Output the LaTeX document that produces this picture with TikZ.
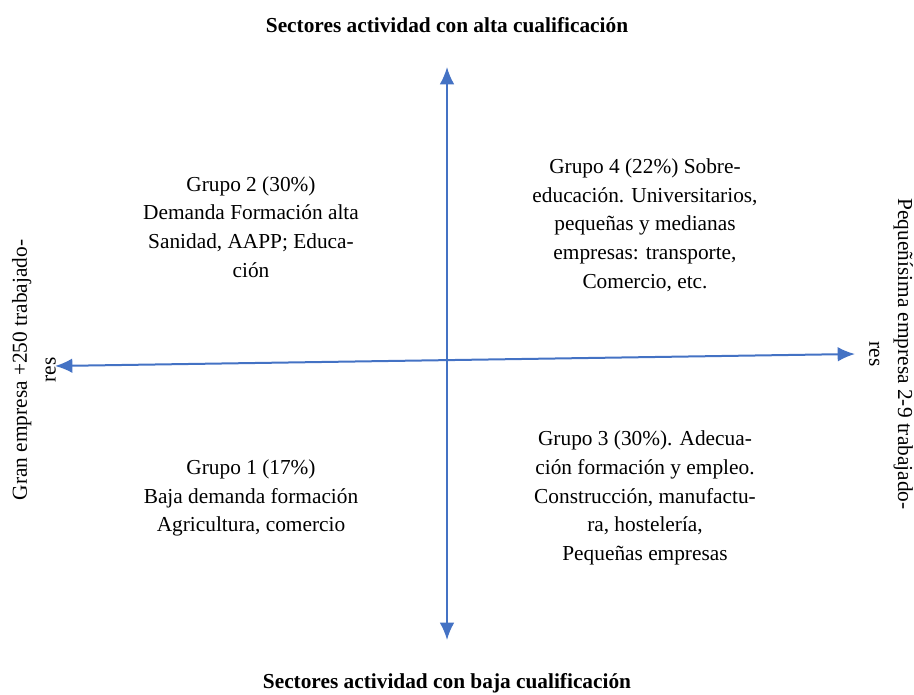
\documentclass[tikz,border=0pt]{standalone}
\usepackage{fontspec}
\setmainfont{Liberation Serif}
\usepackage{xcolor}
\definecolor{axisblue}{RGB}{68,114,196}
\usetikzlibrary{arrows.meta, positioning}

\tikzset{
  axisline/.style={draw=axisblue, line width=1.5pt, {Latex[length=13pt,width=11pt]}-{Latex[length=13pt,width=11pt]}},
  quadtext/.style={font=\fontsize{16}{21.5}\selectfont, align=center, inner sep=0pt},
  titletext/.style={font=\fontsize{16}{21.5}\selectfont\bfseries, align=center, inner sep=0pt},
  sidetext/.style={font=\fontsize{16}{21.5}\selectfont, align=center, inner sep=0pt}
}

\begin{document}
\begin{tikzpicture}[x=0.75pt, y=-0.75pt]
      \useasboundingbox (0,0) rectangle (914,695);

      % Axis end points
      \coordinate (top) at (447,67);
      \coordinate (bottom) at (447,640);
      \coordinate (left) at (55,366);
      \coordinate (right) at (855,354);

      % Axes
      \draw[axisline] (bottom) -- (top);
      \draw[axisline] (left) -- (right);

      % Titles
      \node[titletext] (alta) at (447,25) {Sectores actividad con alta cualificación};
      \node[titletext] (baja) at (447,683) {Sectores actividad con baja cualificación};
      \node[sidetext, rotate=90] (gran) at (34,370) {Gran empresa +250 trabajado-\\res};
      \node[sidetext, rotate=-90] (pequena) at (891,354) {Pequeñísima empresa 2-9 trabajado-\\res};

      % Quadrants
      \node[quadtext] (grupo2) at (251,227) {Grupo 2 (30\%)\\Demanda Formación alta\\Sanidad, AAPP; Educa-\\ción};
      \node[quadtext] (grupo4) at (645,225) {Grupo 4 (22\%) Sobre-\\educación. Universitarios,\\pequeñas y medianas\\empresas: transporte,\\Comercio, etc.};
      \node[quadtext] (grupo1) at (251,498) {Grupo 1 (17\%)\\Baja demanda formación\\Agricultura, comercio};
      \node[quadtext] (grupo3) at (645,498) {Grupo 3 (30\%). Adecua-\\ción formación y empleo.\\Construcción, manufactu-\\ra, hostelería,\\Pequeñas empresas};
\end{tikzpicture}
\end{document}
